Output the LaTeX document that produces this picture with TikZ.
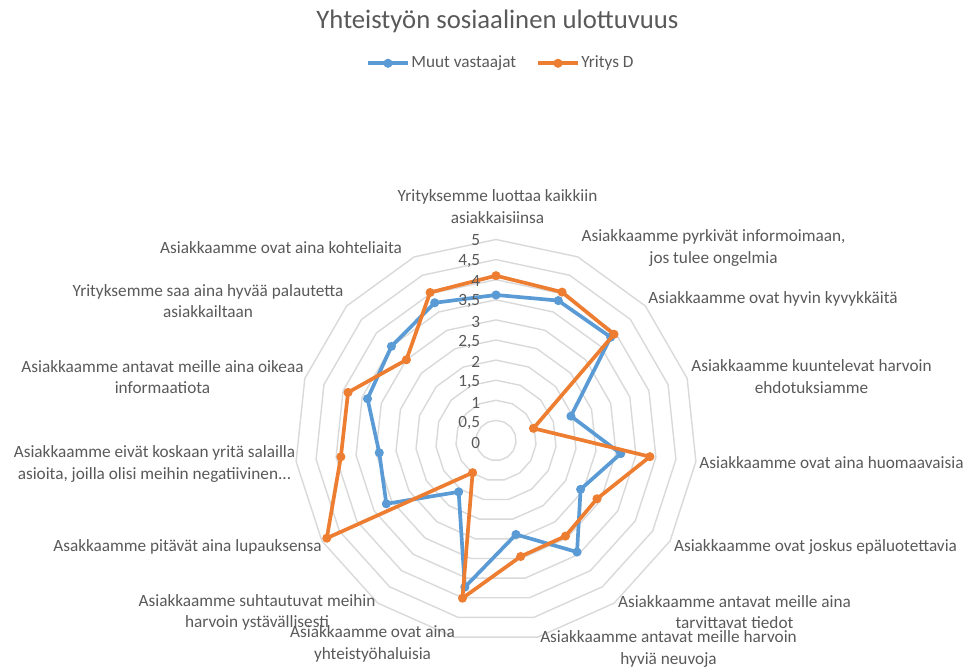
\documentclass[tikz,border=0pt]{standalone}
\usepackage{fontspec}
\setmainfont{Carlito}
\definecolor{txtgray}{HTML}{595959}
\definecolor{gridgray}{HTML}{D9D9D9}
\definecolor{muutblue}{HTML}{5B9BD5}
\definecolor{yrorange}{HTML}{ED7D31}
\tikzset{
  lbl/.style={text=txtgray, font=\fontsize{9.8}{12.2}\selectfont, align=center},
  ring/.style={draw=gridgray, line width=0.8pt},
  serie/.style={line width=2.1pt, line join=round},
  mk/.style={circle, minimum size=5.2pt}
}
\begin{document}
\begin{tikzpicture}[scale=0.2]
\tikzstyle{every node}+=[inner sep=0pt]
\useasboundingbox (0,0) rectangle (96.9,-67.1);
\node [lbl, font=\fontsize{15.2}{18}\selectfont] (title) at (49.75,-2.17) {Yhteistyön sosiaalinen ulottuvuus};
\coordinate (lb1) at (36.8,-6.33);
\coordinate (lb2) at (40.8,-6.33);
\draw [serie, muutblue] (lb1) -- (lb2);
\node [mk, fill=muutblue] (lbm) at (38.8,-6.33) {};
\node [lbl, anchor=west] (lbt) at (41.1,-6.33) {Muut vastaajat};
\coordinate (lo1) at (53.8,-6.33);
\coordinate (lo2) at (57.8,-6.33);
\draw [serie, yrorange] (lo1) -- (lo2);
\node [mk, fill=yrorange] (lom) at (55.8,-6.33) {};
\node [lbl, anchor=west] (lot) at (58.1,-6.33) {Yritys D};
\begin{scope}[shift={(49.6,-44.05)}]
\coordinate (c) at (0,0);
\foreach \v in {0.5,1,...,5}
  \draw [ring] (90:{\v*4.02}) \foreach \k in {1,...,14} { -- ({90-24*\k}:{\v*4.02})} -- cycle;
\foreach \val [count=\k from 0] in {3.62,3.81,3.84,1.96,3.12,2.43,3.43,2.39,3.73,1.58,3.15,2.92,3.36,3.5,3.75}
  \coordinate (m\k) at ({90-24*\k}:{\val*4.02});
\foreach \val [count=\k from 0] in {4.1,4.04,3.95,0.98,3.85,2.9,2.94,2.95,4.01,0.99,4.86,3.88,3.87,3.0,4.03}
  \coordinate (y\k) at ({90-24*\k}:{\val*4.02});
\draw [serie, muutblue] (m0) \foreach \k in {1,...,14} { -- (m\k)} -- cycle;
\foreach \k in {0,...,14}
  \node [mk, fill=muutblue] (mm\k) at (m\k) {};
\draw [serie, yrorange] (y0) \foreach \k in {1,...,14} { -- (y\k)} -- cycle;
\foreach \k in {0,...,14}
  \node [mk, fill=yrorange] (ym\k) at (y\k) {};
\end{scope}
\foreach \t [count=\i from 0] in {0,{0,5},1,{1,5},2,{2,5},3,{3,5},4,{4,5},5}
  \node [lbl, anchor=east] (t\i) at (48.05,{-44.33+2.03*\i}) {\t};
\node [lbl] (a0) at (49.75,-20.65) {Yrityksemme luottaa kaikkiin\\asiakkaisiinsa};
\node [lbl] (a1) at (71.35,-24.78) {Asiakkaamme pyrkivät informoimaan,\\jos tulee ongelmia};
\node [lbl] (a2) at (77.3,-29.9) {Asiakkaamme ovat hyvin kyvykkäitä};
\node [lbl] (a3) at (81.15,-37.65) {Asiakkaamme kuuntelevat harvoin\\ehdotuksiamme};
\node [lbl] (a4) at (83.15,-46.3) {Asiakkaamme ovat aina huomaavaisia};
\node [lbl] (a5) at (81.55,-54.7) {Asiakkaamme ovat joskus epäluotettavia};
\node [lbl] (a6) at (73.45,-61.22) {Asiakkaamme antavat meille aina\\tarvittavat tiedot};
\node [lbl] (a7) at (66.85,-64.88) {Asiakkaamme antavat meille harvoin\\hyviä neuvoja};
\node [lbl] (a8) at (37.25,-64.4) {Asiakkaamme ovat aina\\yhteistyöhaluisia};
\node [lbl] (a9) at (25.7,-61.23) {Asiakkaamme suhtautuvat meihin\\harvoin ystävällisesti};
\node [lbl] (a10) at (18.75,-54.67) {Asakkaamme pitävät aina lupauksensa};
\node [lbl] (a11) at (15.45,-46.4) {Asiakkaamme eivät koskaan yritä salailla\\asioita, joilla olisi meihin negatiivinen...};
\node [lbl] (a12) at (16.25,-37.73) {Asiakkaamme antavat meille aina oikeaa\\informaatiota};
\node [lbl] (a13) at (20.8,-30.1) {Yrityksemme saa aina hyvää palautetta\\asiakkailtaan};
\node [lbl] (a14) at (28.1,-24.8) {Asiakkaamme ovat aina kohteliaita};
\end{tikzpicture}
\end{document}
